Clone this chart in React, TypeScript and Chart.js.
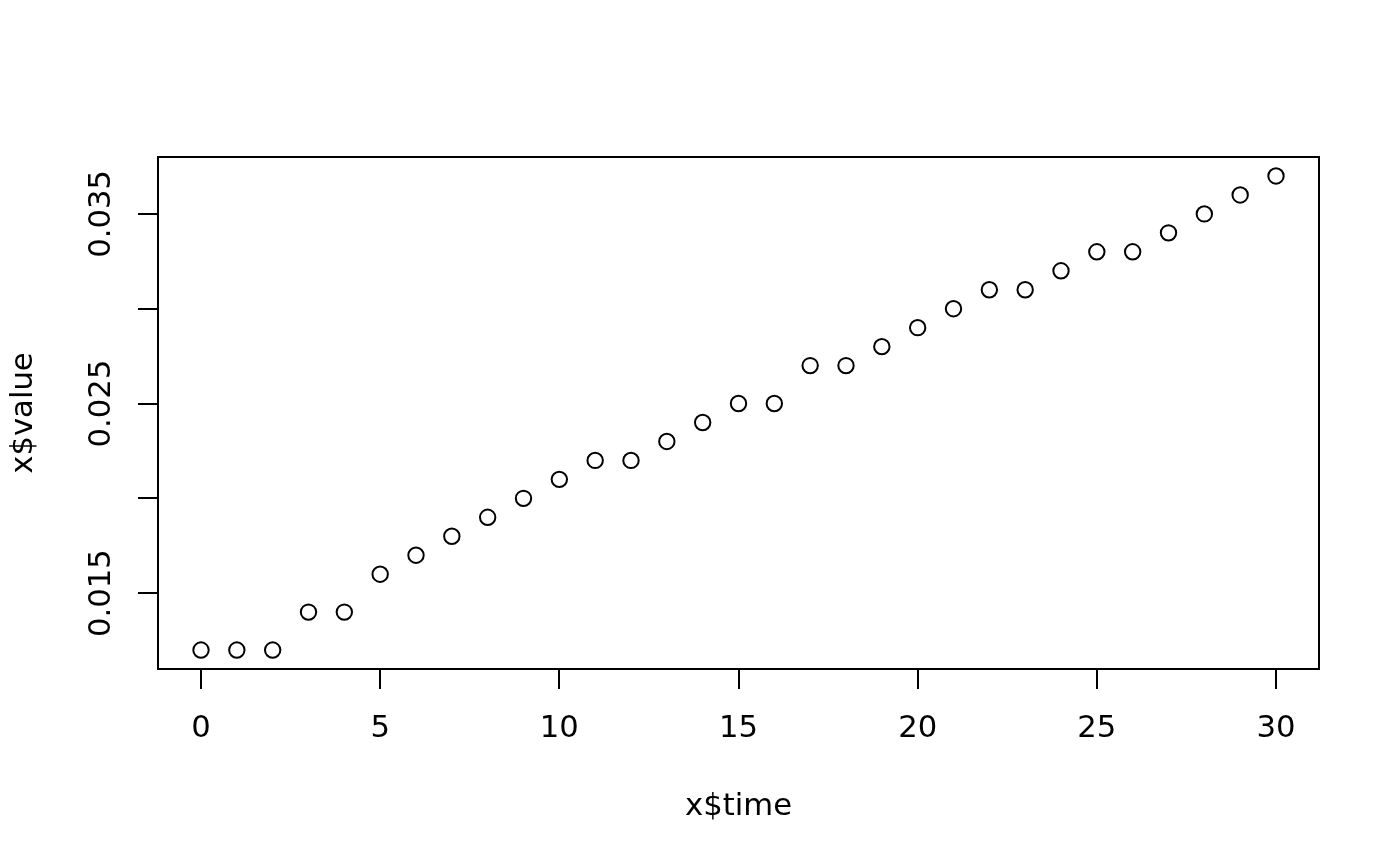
import React, { useEffect, useRef } from "react";
import { Chart, registerables } from "chart.js";

Chart.register(...registerables);

const timeValues: number[] = [0, 1, 2, 3, 4, 5, 6, 7, 8, 9, 10, 11, 12, 13, 14, 15, 16, 17, 18, 19, 20, 21, 22, 23, 24, 25, 26, 27, 28, 29, 30];
const seriesValues: number[] = [
  0.012, 0.012, 0.012, 0.014, 0.014, 0.016, 0.017, 0.018, 0.019, 0.020,
  0.021, 0.022, 0.022, 0.023, 0.024, 0.025, 0.025, 0.027, 0.027, 0.028,
  0.029, 0.030, 0.031, 0.031, 0.032, 0.033, 0.033, 0.034, 0.035, 0.036, 0.037,
];
const xTicks: number[] = [0, 5, 10, 15, 20, 25, 30];
const yTicks: number[] = [0.015, 0.02, 0.025, 0.03, 0.035];
const yTickLabels: string[] = ["0.015", "", "0.025", "", "0.035"];
const xTitle = "x$time";
const yTitle = "x$value";

const FONT = "'DejaVu Sans', sans-serif";
const FS = 30.7;

const boxPlugin = {
  id: "rbox",
  afterDraw(chart: any) {
    const { ctx, chartArea } = chart;
    ctx.save();
    ctx.strokeStyle = "#000";
    ctx.lineWidth = 2;
    ctx.strokeRect(chartArea.left, chartArea.top, chartArea.right - chartArea.left, chartArea.bottom - chartArea.top);
    ctx.restore();
  },
};

export default function App() {
  const ref = useRef<HTMLCanvasElement | null>(null);
  useEffect(() => {
    if (!ref.current) return;
    const data = timeValues.map((t, i) => ({ x: t, y: seriesValues[i] }));
    const chart = new Chart(ref.current, {
      type: "scatter",
      data: {
        datasets: [
          {
            data,
            borderColor: "#000",
            backgroundColor: "rgba(0,0,0,0)",
            borderWidth: 2,
            pointRadius: 7.7,
            pointHoverRadius: 7.7,
          },
        ],
      },
      options: {
        animation: false,
        responsive: false,
        devicePixelRatio: 1,
        layout: { padding: { left: 0, top: 157, right: 81, bottom: 0 } },
        plugins: { legend: { display: false }, tooltip: { enabled: false } },
        font: { family: FONT },
        scales: {
          x: {
            type: "linear",
            min: -1.2,
            max: 31.2,
            afterBuildTicks: (s: any) => {
              s.ticks = xTicks.map((v) => ({ value: v }));
            },
            afterFit: (s: any) => {
              s.height = 197;
            },
            border: { display: false },
            grid: { drawOnChartArea: false, drawTicks: true, tickLength: 20, color: "#000", lineWidth: 2 },
            ticks: {
              autoSkip: false,
              maxRotation: 0,
              minRotation: 0,
              padding: 22,
              color: "#000",
              font: { family: FONT, size: FS },
              callback: (v: any) => String(v),
            },
            title: {
              display: true,
              text: xTitle,
              color: "#000",
              font: { family: FONT, size: FS },
              padding: { top: 0, bottom: 41 },
            },
          },
          y: {
            type: "linear",
            min: 0.011,
            max: 0.038,
            afterBuildTicks: (s: any) => {
              s.ticks = yTicks.map((v) => ({ value: v }));
            },
            afterFit: (s: any) => {
              s.width = 158;
            },
            border: { display: false },
            grid: { drawOnChartArea: false, drawTicks: true, tickLength: 20, color: "#000", lineWidth: 2 },
            ticks: {
              autoSkip: false,
              minRotation: 90,
              maxRotation: 90,
              crossAlign: "center",
              padding: -8,
              color: "#000",
              font: { family: FONT, size: FS },
              callback: (_v: any, i: number) => yTickLabels[i],
            },
            title: {
              display: true,
              text: yTitle,
              color: "#000",
              font: { family: FONT, size: FS },
              padding: { top: 6, bottom: 0 },
            },
          },
        },
      } as any,
      plugins: [boxPlugin],
    });
    return () => chart.destroy();
  }, []);
  return (
    <div style={{ position: "absolute", left: 0, top: 0, width: 1400, height: 866, background: "#fff" }}>
      <canvas ref={ref} width={1400} height={866} style={{ width: 1400, height: 866, display: "block" }} />
    </div>
  );
}
